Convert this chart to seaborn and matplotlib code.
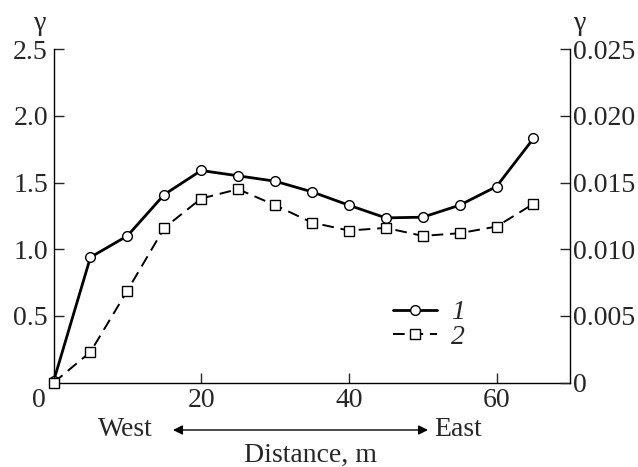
import numpy as np
import pandas as pd
import matplotlib
matplotlib.use("Agg")
import matplotlib.pyplot as plt
import matplotlib.transforms as mtransforms
import seaborn as sns

# data
distance = [0, 5, 10, 15, 20, 25, 30, 35, 40, 45, 50, 55, 60, 65]
gamma_1 = [0.01, 0.94, 1.10, 1.41, 1.59, 1.55, 1.51, 1.43, 1.33, 1.235, 1.24, 1.33, 1.47, 1.83]   # left axis
gamma_2 = [0.0, 0.0023, 0.0069, 0.0116, 0.0138, 0.0145, 0.0133, 0.0120, 0.0114, 0.0116,
           0.0110, 0.0112, 0.0117, 0.0134]                                                      # right axis
series_labels = ["1", "2"]

xticks = [0, 20, 40, 60]
left_ticks = [0.5, 1.0, 1.5, 2.0, 2.5]
right_ticks = [0, 0.005, 0.010, 0.015, 0.020, 0.025]
right_ticklabels = ["0", "0.005", "0.010", "0.015", "0.020", "0.025"]

df1 = pd.DataFrame({"distance": distance, "gamma": gamma_1})
df2 = pd.DataFrame({"distance": distance, "gamma": gamma_2})

#%%
sns.set_style("ticks")
plt.rcParams["font.family"] = ["Liberation Serif", "DejaVu Serif"]
fs = 20

fig = plt.figure(figsize=(6.38, 4.67), dpi=100)
ax = fig.add_axes([0.0839, 0.1805, 0.8101, 0.7145])
ax2 = ax.twinx()

sns.lineplot(data=df1, x="distance", y="gamma", ax=ax, color="black", lw=2.0,
             marker="o", markersize=7, markerfacecolor="white", markeredgecolor="black",
             markeredgewidth=1.0, clip_on=False)
sns.lineplot(data=df2, x="distance", y="gamma", ax=ax2, color="black", lw=1.4,
             dashes=False, marker="s", markersize=7, markerfacecolor="white",
             markeredgecolor="black", markeredgewidth=1.0, clip_on=False)
ax2.lines[0].set_dashes((6, 3.5))

ax.set_xlim(0, 70)
ax.set_ylim(0, 2.5)
ax2.set_ylim(0, 0.025)

ax.set_xticks(xticks)
ax.set_xticklabels([str(t) for t in xticks])
ax.set_yticks(left_ticks)
ax.set_yticklabels([f"{t:.1f}" for t in left_ticks])
ax2.set_yticks(right_ticks)
ax2.set_yticklabels(right_ticklabels)

ax.set_xlabel("")
ax.set_ylabel("")
ax2.set_ylabel("")

for a in (ax, ax2):
    a.spines["top"].set_visible(False)
    for s in a.spines.values():
        s.set_color("black")
        s.set_linewidth(1.0)
ax.spines["right"].set_visible(False)
ax2.spines["left"].set_visible(False)
ax2.spines["bottom"].set_visible(False)

ax.tick_params(axis="x", direction="in", length=7, width=1, labelsize=fs, pad=4)
ax.tick_params(axis="y", direction="in", length=7, width=1, labelsize=fs, pad=4)
ax2.tick_params(axis="y", direction="in", length=7, width=1, labelsize=fs, pad=2)

# shift the "0" x label to the left of the origin
zero_lbl = ax.get_xticklabels()[0]
zero_lbl.set_transform(zero_lbl.get_transform() +
                       mtransforms.ScaledTranslation(-15 / 100, 0, fig.dpi_scale_trans))

# gamma labels above both axes
fig.text(40 / 638, 1 - 23 / 467, "γ", fontsize=fs, ha="center", va="center")
fig.text(580 / 638, 1 - 23 / 467, "γ", fontsize=fs, ha="center", va="center")

# West <-> East arrow and axis title
fig.text(125 / 638, 1 - 430 / 467, "West", fontsize=fs, ha="center", va="center")
fig.text(458 / 638, 1 - 430 / 467, "East", fontsize=fs, ha="center", va="center")
ax.annotate("", xy=(173 / 638, 1 - 430 / 467), xytext=(428 / 638, 1 - 430 / 467),
            xycoords="figure fraction", textcoords="figure fraction",
            arrowprops=dict(arrowstyle="<|-|>", color="black", lw=1.0,
                            mutation_scale=14, shrinkA=0, shrinkB=0))
fig.text(310 / 638, 1 - 455 / 467, "Distance, m", fontsize=fs, ha="center", va="center")

# legend
handles = [ax.lines[0], ax2.lines[0]]
ax.legend(handles, series_labels, loc="upper left",
          bbox_to_anchor=(393 / 638, 1 - 300 / 467), bbox_transform=fig.transFigure,
          frameon=False, borderpad=0, borderaxespad=0, handlelength=1.6,
          handletextpad=0.5, labelspacing=-0.05,
          prop={"family": "Liberation Serif", "style": "italic", "size": fs})

plt.savefig("out.png", dpi=100)
